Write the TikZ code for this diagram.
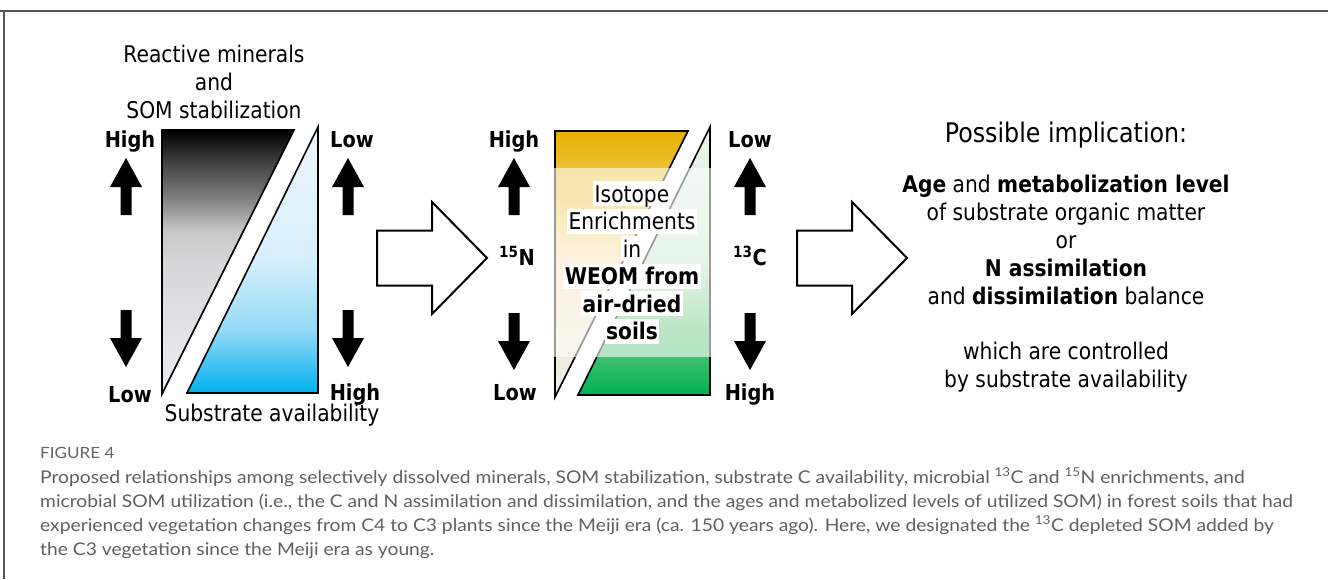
\documentclass[tikz,border=0pt]{standalone}
\usepackage{fontspec}
\setmainfont{DejaVu Sans}[FakeStretch=0.88]
\newfontfamily\capfont{Lato}[FakeStretch=1.1]

\definecolor{framegray}{RGB}{85,85,85}
\definecolor{capgray}{RGB}{95,95,95}
\definecolor{figgray}{RGB}{100,100,100}

% vertical fades, stops counted from the bottom (25bp..75bp is the filled box)
\pgfdeclareverticalshading{mineralfade}{100bp}{%
  rgb(0bp)=(0.925,0.933,0.949); rgb(25bp)=(0.925,0.933,0.949);
  rgb(50bp)=(0.84,0.84,0.847); rgb(56bp)=(0.78,0.78,0.78);
  rgb(62bp)=(0.5,0.5,0.5); rgb(69bp)=(0.25,0.25,0.25);
  rgb(75bp)=(0,0,0); rgb(100bp)=(0,0,0)}
\pgfdeclareverticalshading{substratefade}{100bp}{%
  rgb(0bp)=(0,0.69,0.94); rgb(25bp)=(0,0.69,0.94);
  rgb(37bp)=(0.59,0.855,0.965); rgb(50bp)=(0.84,0.94,0.984);
  rgb(75bp)=(0.933,0.965,0.988); rgb(100bp)=(0.933,0.965,0.988)}
\pgfdeclareverticalshading{nitrofade}{100bp}{%
  rgb(0bp)=(0.933,0.933,0.925); rgb(25bp)=(0.933,0.933,0.925);
  rgb(35bp)=(0.94,0.92,0.855); rgb(51bp)=(0.98,0.88,0.69);
  rgb(62bp)=(0.94,0.77,0.25); rgb(68bp)=(0.93,0.76,0.2);
  rgb(75bp)=(0.9,0.69,0); rgb(100bp)=(0.9,0.69,0)}
\pgfdeclareverticalshading{carbonfade}{100bp}{%
  rgb(0bp)=(0,0.69,0.314); rgb(25bp)=(0,0.69,0.314);
  rgb(32bp)=(0.235,0.753,0.44); rgb(37bp)=(0.345,0.745,0.44);
  rgb(50bp)=(0.77,0.9,0.79); rgb(75bp)=(0.94,0.97,0.95);
  rgb(100bp)=(0.94,0.97,0.95)}

\begin{document}
\begin{tikzpicture}[x=1pt, y=-1pt,
    txt/.style={font=\fontsize{23}{28}\selectfont, align=center, inner sep=0pt, anchor=base},
    hilo/.style={font=\fontsize{22}{26}\selectfont\bfseries, inner sep=0pt, anchor=base},
    iso/.style={fill=white, anchor=base, inner xsep=1.5pt, inner ysep=0pt,
      text height=21pt, text depth=4pt, font=\fontsize{23}{28}\selectfont},
    captxt/.style={font=\capfont\fontsize{17.5}{21}\selectfont, text=capgray,
      anchor=base west, inner sep=0pt},
    wedge/.style={draw=black, line width=1.6pt, line join=miter},
    upblk/.pic={\fill (0,0) -- (16,29) -- (5.5,29) -- (5.5,57) -- (-5.5,57)
      -- (-5.5,29) -- (-16,29) -- cycle;},
    downblk/.pic={\fill (0,0) -- (16,-29) -- (5.5,-29) -- (5.5,-57) -- (-5.5,-57)
      -- (-5.5,-29) -- (-16,-29) -- cycle;},
    hollowarr/.pic={\draw[line width=2pt, line join=miter] (0,-27.5) -- (55,-27.5)
      -- (55,-56) -- (110,0) -- (55,56) -- (55,27.5) -- (0,27.5) -- cycle;}]
  \useasboundingbox (0,0) rectangle (1328,579);

  % frame
  \draw[framegray, line width=1.3pt] (0,11) -- (1328,11);
  \draw[framegray, line width=1.3pt] (4,11) -- (4,579);

  % minerals / substrate wedges (multi-line nodes sit on their last line)
  \node[txt] (minlbl) at (214,118) {Reactive minerals\\and\\SOM stabilization};
  \shadedraw[wedge, shading=mineralfade] (162,130) -- (294,130) -- (162,394) -- cycle;
  \shadedraw[wedge, shading=substratefade] (187,393) -- (318,393) -- (318,127) -- cycle;
  \node[txt] (subslbl) at (272,421) {Substrate availability};

  \node[hilo] (minhi) at (130,147) {High};
  \node[hilo] (minlo) at (130,402) {Low};
  \node[hilo] (subslo) at (352,147) {Low};
  \node[hilo] (subshi) at (355,400) {High};
  \pic at (126,158) {upblk};
  \pic at (126,367) {downblk};
  \pic at (348,158) {upblk};
  \pic at (348,367) {downblk};

  \pic at (377,258) {hollowarr};

  % isotope wedges
  \shadedraw[wedge, shading=nitrofade] (555,131) -- (688,131) -- (555,397) -- cycle;
  \shadedraw[wedge, shading=carbonfade] (578,395) -- (710,395) -- (710,127) -- cycle;
  \fill[white, opacity=0.6] (552,168) rectangle (713,357);

  \node[iso] (iso1) at (632,202) {Isotope};
  \node[iso] (iso2) at (632,229.5) {Enrichments};
  \node[iso] (iso3) at (632,257) {in};
  \node[iso, font=\fontsize{23}{28}\selectfont\bfseries] (iso4) at (632,284.5) {WEOM from};
  \node[iso, font=\fontsize{23}{28}\selectfont\bfseries] (iso5) at (632,312) {air-dried};
  \node[iso, font=\fontsize{23}{28}\selectfont\bfseries] (iso6) at (632,339.5) {soils};

  \node[hilo] (nhi) at (514,147) {High};
  \node[hilo] (nlo) at (515,400) {Low};
  \node[hilo] (clo) at (750,147) {Low};
  \node[hilo] (chi) at (750,400) {High};
  \node[hilo] (n15) at (517,265) {\textsuperscript{15}N};
  \node[hilo] (c13) at (750,265) {\textsuperscript{13}C};
  \pic at (514,158) {upblk};
  \pic at (514,370) {downblk};
  \pic at (750,158) {upblk};
  \pic at (750,370) {downblk};

  \pic at (797,258) {hollowarr};

  % implication text
  \node[txt, font=\fontsize{27}{32}\selectfont] (impttl) at (1066,142) {Possible implication:};
  \node[txt] (imptxt) at (1066,387) {\textbf{Age} and \textbf{metabolization level}\\
    of substrate organic matter\\ or\\ \textbf{N assimilation}\\
    and \textbf{dissimilation} balance\\[27pt] which are controlled\\
    by substrate availability};

  % caption
  \node[captxt, font=\capfont\fontsize{15.5}{18}\selectfont, text=figgray] (fig) at (40,458) {FIGURE 4};
  \node[captxt] (cap1) at (40,483) {Proposed relationships among selectively dissolved minerals, SOM stabilization, substrate C availability, microbial \textsuperscript{13}C and \textsuperscript{15}N enrichments, and};
  \node[captxt] (cap2) at (40,507) {microbial SOM utilization (i.e., the C and N assimilation and dissimilation, and the ages and metabolized levels of utilized SOM) in forest soils that had};
  \node[captxt] (cap3) at (40,531) {experienced vegetation changes from C4 to C3 plants since the Meiji era (ca. 150 years ago). Here, we designated the \textsuperscript{13}C depleted SOM added by};
  \node[captxt] (cap4) at (40,555) {the C3 vegetation since the Meiji era as young.};
\end{tikzpicture}
\end{document}
